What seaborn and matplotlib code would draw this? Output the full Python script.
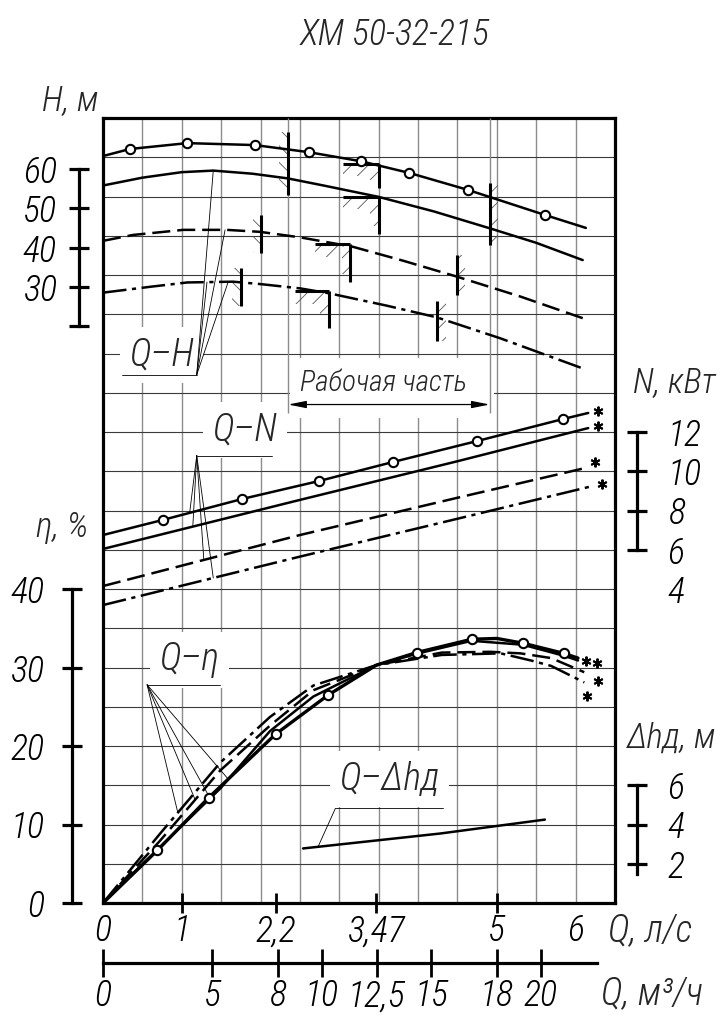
import numpy as np
import matplotlib
matplotlib.use("Agg")
import matplotlib.pyplot as plt
from matplotlib.patches import Rectangle
from matplotlib.transforms import offset_copy
import seaborn as sns

# ---------------- data ----------------
title = "ХМ 50-32-215"

# Q-H curves (Q in l/s, H in m)
h1_q = [0, 0.34, 1.07, 1.93, 2.61, 3.27, 3.89, 4.63, 5.61, 6.13]
h1_h = [63.3, 65.1, 66.6, 66.1, 64.3, 62.0, 59.0, 54.7, 48.3, 45.0]
h2_q = [0, 0.5, 1.0, 1.4, 1.9, 2.35, 2.8, 3.5, 4.2, 4.91, 5.5, 6.09]
h2_h = [55.8, 57.8, 59.2, 59.6, 58.8, 57.6, 55.8, 52.9, 49.2, 44.9, 41.2, 36.8]
h3_q = [0, 0.38, 1.02, 1.57, 1.99, 2.5, 3.17, 3.8, 4.49, 5.3, 6.09]
h3_h = [41.7, 43.2, 44.5, 44.5, 44.0, 42.6, 40.2, 36.7, 32.6, 27.5, 22.0]
h4_q = [0, 0.6, 1.07, 1.65, 1.99, 2.5, 2.88, 3.6, 4.24, 5.04, 6.09]
h4_h = [28.5, 30.0, 31.1, 31.3, 30.7, 29.6, 28.3, 25.2, 22.2, 16.9, 9.2]

# Q-N curves (N in kW)
n1_q = [0, 0.76, 1.77, 2.74, 3.68, 4.75, 5.84, 6.16]
n1_n = [6.75, 7.52, 8.59, 9.50, 10.47, 11.54, 12.66, 12.97]
n2_q = [0, 2.5, 4.49, 6.16]
n2_n = [6.04, 8.54, 10.5, 12.2]
n3_q = [0, 2.5, 4.49, 6.16]
n3_n = [4.15, 6.75, 8.64, 10.2]
n4_q = [0, 2.5, 4.49, 6.22]
n4_n = [3.18, 5.65, 7.57, 9.25]

# Q-eta curves (eta in %)
e1_q = [0, 0.69, 1.34, 2.19, 2.86, 3.47, 3.98, 4.68, 5.0, 5.33, 5.85, 6.03]
e1_e = [0, 6.7, 13.4, 21.5, 26.5, 30.3, 31.9, 33.6, 33.7, 33.1, 31.8, 31.2]
e2_q = [0, 0.73, 1.49, 2.12, 2.67, 3.47, 4.0, 4.68, 5.33, 5.85, 6.03]
e2_e = [0, 7.2, 14.6, 21.9, 26.3, 30.3, 31.8, 33.4, 32.9, 31.5, 30.9]
e3_q = [0, 0.73, 1.49, 2.12, 2.67, 3.47, 4.3, 4.92, 5.3, 5.69, 6.11]
e3_e = [0, 8.0, 16.9, 22.6, 27.1, 30.3, 31.9, 32.0, 31.8, 31.2, 29.4]
e4_q = [0, 0.73, 1.49, 2.12, 2.67, 3.47, 4.3, 5.05, 5.43, 5.69, 6.11]
e4_e = [0, 8.9, 17.9, 23.7, 27.7, 30.3, 31.6, 31.8, 30.9, 30.2, 28.1]

# Q-dh (NPSH, m)
dh_q = [2.54, 4.28, 5.61]
dh_h = [2.78, 3.54, 4.25]

# working range borders on the Q-H curves: (Q, H low, H high)
left_marks = [(2.35, 53.4, 69.4), (2.01, 38.6, 48.3), (1.75, 25.1, 34.8)]
right_marks = [(4.91, 40.6, 56.4), (4.49, 27.9, 38.1), (4.24, 16.2, 26.4)]
# L-shaped marks: (Q, shelf start Q, H top, H low)
shelf_marks = [(3.50, 3.05, 61.3, 55.2), (3.50, 3.05, 52.9, 43.4),
               (3.14, 2.69, 40.9, 31.2), (2.87, 2.44, 28.9, 19.5)]
work_range = (2.35, 4.91)

# scales
q_ls_ticks = [0, 1, 2.2, 3.47, 5, 6]
q_m3_ticks = [0, 5, 8, 10, 12.5, 15, 18, 20]
h_ticks = [20, 30, 40, 50, 60]
n_ticks = [4, 6, 8, 10, 12]
e_ticks = [0, 10, 20, 30, 40]
dh_ticks = [2, 4, 6]


def fmt(v):
    return ("%g" % v).replace(".", ",")


# ---------------- style ----------------
sns.set_theme(style="white")
plt.rcParams["font.family"] = ["Liberation Sans Narrow", "Roboto Condensed",
                               "Noto Sans", "DejaVu Sans"]
plt.rcParams["font.stretch"] = "condensed"
plt.rcParams["font.style"] = "italic"
plt.rcParams["font.weight"] = "light"
plt.rcParams["lines.scale_dashes"] = False
plt.rcParams["hatch.linewidth"] = 0.6

W, Hh = 728, 1024
fig = plt.figure(figsize=(7.28, 10.24), dpi=100)
L, R, T, B = 103, 615, 118, 903
ax = fig.add_axes([L / W, 1 - B / Hh, (R - L) / W, (B - T) / Hh])
ax.set_xlim(0, 6.5)
ax.set_ylim(0, 20)

# grid (0.5 l/s by one row)
ax.vlines(np.arange(0.5, 6.5, 0.5), 0, 20, color="#8c8c8c", lw=1.0, zorder=0)
ax.hlines(np.arange(1, 20), 0, 6.5, color="#3a3a3a", lw=0.8, zorder=0)
for s in ax.spines.values():
    s.set_linewidth(2.3)
    s.set_color("black")

ax.set_yticks([])
ax.set_xticks(q_ls_ticks, [fmt(v) for v in q_ls_ticks])
ax.tick_params(axis="x", bottom=True, direction="inout", length=15, width=2,
               pad=0, labelsize=26, colors="black")
for i in (0, len(q_ls_ticks) - 1):
    ax.xaxis.get_major_ticks()[i].tick1line.set_visible(False)

axH = ax.twinx()
axN = ax.twinx()
axE = ax.twinx()
axD = ax.twinx()
for a in (axH, axN, axE, axD):
    for s in a.spines.values():
        s.set_visible(False)

solid = "-"
dashed = (0, (13, 5))
dashdot = (0, (17, 4, 3, 4))
lw = 1.8


def curve(a, q, y, ls, marks=None):
    sns.lineplot(x=q, y=y, ax=a, color="black", lw=lw, linestyle=ls,
                 estimator=None, sort=False, zorder=4)
    if marks is not None:
        sns.scatterplot(x=[q[i] for i in marks], y=[y[i] for i in marks], ax=a,
                        color="white", edgecolor="black", linewidth=1.5, s=45,
                        zorder=6)


def hatched(a, x, y, w, h, pattern):
    a.add_patch(Rectangle((x, y), w, h, fill=False, lw=0, edgecolor="#555555",
                          hatch=pattern, zorder=3))


# ---- Q-H ----
curve(axH, h1_q, h1_h, solid, marks=range(1, 9))
curve(axH, h2_q, h2_h, solid)
curve(axH, h3_q, h3_h, dashed)
curve(axH, h4_q, h4_h, dashdot)

for q, lo, hi in left_marks:
    axH.vlines(q, lo, hi, color="black", lw=2.2, zorder=5)
    hatched(axH, q - 0.11, lo, 0.11, hi - lo, "\\\\")
for q, lo, hi in right_marks:
    axH.vlines(q, lo, hi, color="black", lw=2.2, zorder=5)
    hatched(axH, q, lo, 0.11, hi - lo, "//")
for q, q0, top, lo in shelf_marks:
    axH.vlines(q, lo, top, color="black", lw=2.2, zorder=5)
    axH.hlines(top, q0, q, color="black", lw=2.2, zorder=5)
    hatched(axH, q0, top - 3.2, q - q0, 3.2, "//")
    hatched(axH, q - 0.11, lo + 2, 0.11, top - lo - 5.2, "//")

# working range dimension
ax.add_patch(Rectangle((2.37, -3.4), 2.6, 15.2, transform=axH.transData,
                       fc="white", ec="none", zorder=1))
axH.vlines(work_range, -2.2, 73, color="#8c8c8c", lw=1.0, zorder=1)
axH.annotate("", xy=(work_range[0], 0), xytext=(work_range[1], 0),
             arrowprops=dict(arrowstyle="<|-|>,head_length=0.9,head_width=0.18",
                             color="black", lw=0.9, shrinkA=0, shrinkB=0))
axH.text(3.56, 5.6, "Рабочая часть", ha="center", va="center", fontsize=21)

# ---- Q-N ----
curve(axN, n1_q, n1_n, solid, marks=range(1, 7))
curve(axN, n2_q, n2_n, solid)
curve(axN, n3_q, n3_n, dashed)
curve(axN, n4_q, n4_n, dashdot)

# ---- Q-eta ----
curve(axE, e1_q, e1_e, solid, marks=[1, 2, 3, 4, 6, 7, 9, 10])
axE.lines[0].set_linewidth(2.4)
curve(axE, e2_q, e2_e, solid)
curve(axE, e3_q, e3_e, dashed)
curve(axE, e4_q, e4_e, dashdot)

# ---- Q-dh ----
curve(axD, dh_q, dh_h, solid)

# asterisks at curve ends (offset in points)
for a, q, y, dx, dy in [(axN, n1_q, n1_n, 7, 1.5), (axN, n2_q, n2_n, 7, 1.5),
                        (axN, n3_q, n3_n, 5, 3.5), (axN, n4_q, n4_n, 6.5, 1.5),
                        (axE, e1_q, e1_e, 6, -2), (axE, e2_q, e2_e, 14, -2),
                        (axE, e3_q, e3_e, 10, -6.5), (axE, e4_q, e4_e, 2, -9.5)]:
    a.plot(q[-1], y[-1], marker=(6, 2, 0), ms=7, mew=1.4, color="black",
           clip_on=False, zorder=6,
           transform=offset_copy(a.transData, fig=fig, x=dx, y=dy, units="points"))

# ---- curve labels with leaders ----
thin = dict(color="black", lw=0.6, zorder=3)


def label(a, xy, text, under, hub, targets):
    ax.text(xy[0], xy[1], text, transform=a.transData, ha="center", va="center",
            fontsize=27, bbox=dict(boxstyle="square,pad=0.25", fc="white", ec="none"))
    a.plot(under, [hub[1], hub[1]], **thin)
    for tq, tc, ty in targets:
        a.plot([hub[0], tq], [hub[1], np.interp(tq, tc, ty)], **thin)


label(axH, (0.74, 12.6), "Q–H", [0.24, 1.19], (1.19, 7.6),
      [(1.40, h2_q, h2_h), (1.55, h3_q, h3_h), (1.32, h4_q, h4_h),
       (1.59, h4_q, h4_h)])
label(axN, (1.80, 12.1), "Q–N", [1.19, 2.14], (1.19, 10.8),
      [(1.10, n1_q, n1_n), (1.14, n2_q, n2_n), (1.28, n3_q, n3_n),
       (1.40, n4_q, n4_n)])
label(axE, (1.10, 31.0), "Q–η", [0.56, 1.49], (0.56, 27.8),
      [(0.95, e4_q, e4_e), (1.17, e3_q, e3_e), (1.36, e2_q, e2_e),
       (1.59, e1_q, e1_e)])
label(axD, (3.64, 6.3), "Q–Δhд", [2.95, 4.32], (2.95, 4.82),
      [(2.73, dh_q, dh_h)])

# ---- scale bars ----
axH.set_ylim(-127, 73)
axN.set_ylim(-12, 28)
axE.set_ylim(0, 100)
axD.set_ylim(0, 40)

axH.yaxis.tick_left()
axH.spines["left"].set_visible(True)
axH.spines["left"].set_position(("axes", (79 - L) / (R - L)))
axH.spines["left"].set_bounds(20, 60)
axH.set_yticks(h_ticks, ["" if v == 20 else fmt(v) for v in h_ticks])

axE.yaxis.tick_left()
axE.spines["left"].set_visible(True)
axE.spines["left"].set_position(("axes", (72 - L) / (R - L)))
axE.spines["left"].set_bounds(0, 40)
axE.set_yticks(e_ticks, [fmt(v) for v in e_ticks])

axN.yaxis.tick_right()
axN.spines["right"].set_visible(True)
axN.spines["right"].set_position(("axes", (637 - L) / (R - L)))
axN.spines["right"].set_bounds(6, 12)
axN.set_yticks(n_ticks, [fmt(v) for v in n_ticks])
axN.yaxis.get_major_ticks()[0].tick2line.set_visible(False)

axD.yaxis.tick_right()
axD.spines["right"].set_visible(True)
axD.spines["right"].set_position(("axes", (637 - L) / (R - L)))
axD.spines["right"].set_bounds(1.5, 6)
axD.set_yticks(dh_ticks, [fmt(v) for v in dh_ticks])

for a in (axH, axE, axN, axD):
    for s in a.spines.values():
        s.set_linewidth(2.3)
        s.set_color("black")
    a.tick_params(axis="y", direction="inout", length=14, width=2.3,
                  labelsize=26, colors="black")
    a.set_ylabel("")
axH.tick_params(axis="y", pad=9)
axE.tick_params(axis="y", pad=13)
axN.tick_params(axis="y", pad=15)
axD.tick_params(axis="y", pad=15)
ax.set_xlim(0, 6.5)

# second Q scale, m3/h
axm = fig.add_axes([L / W, 1 - 963 / Hh, (R - L) / W, 0.0001])
axm.set_xlim(0, 6.5 * 3.6)
for k, s in axm.spines.items():
    s.set_visible(k == "bottom")
axm.spines["bottom"].set_linewidth(2.3)
axm.spines["bottom"].set_color("black")
axm.spines["bottom"].set_bounds(0, 22.6)
axm.set_yticks([])
axm.set_xticks(q_m3_ticks, [fmt(v) for v in q_m3_ticks])
axm.tick_params(axis="x", bottom=True, direction="inout", length=20, width=2,
                pad=1, labelsize=26, colors="black")
axm.patch.set_visible(False)

# ---- texts ----
fig.text(395 / W, 1 - 35 / Hh, title, ha="center", va="center", fontsize=26)
fig.text(70 / W, 1 - 101 / Hh, "H, м", ha="center", va="center", fontsize=25)
fig.text(674 / W, 1 - 383 / Hh, "N, кВт", ha="center", va="center", fontsize=25)
fig.text(62 / W, 1 - 527 / Hh, "η, %", ha="center", va="center", fontsize=25)
fig.text(672 / W, 1 - 738 / Hh, "Δhд, м", ha="center", va="center", fontsize=25)
fig.text(650 / W, 1 - 931 / Hh, "Q, л/с", ha="center", va="center", fontsize=27)
fig.text(652 / W, 1 - 994 / Hh, "Q, м³/ч", ha="center", va="center", fontsize=27)

fig.savefig("out.png", dpi=100, facecolor="white")
